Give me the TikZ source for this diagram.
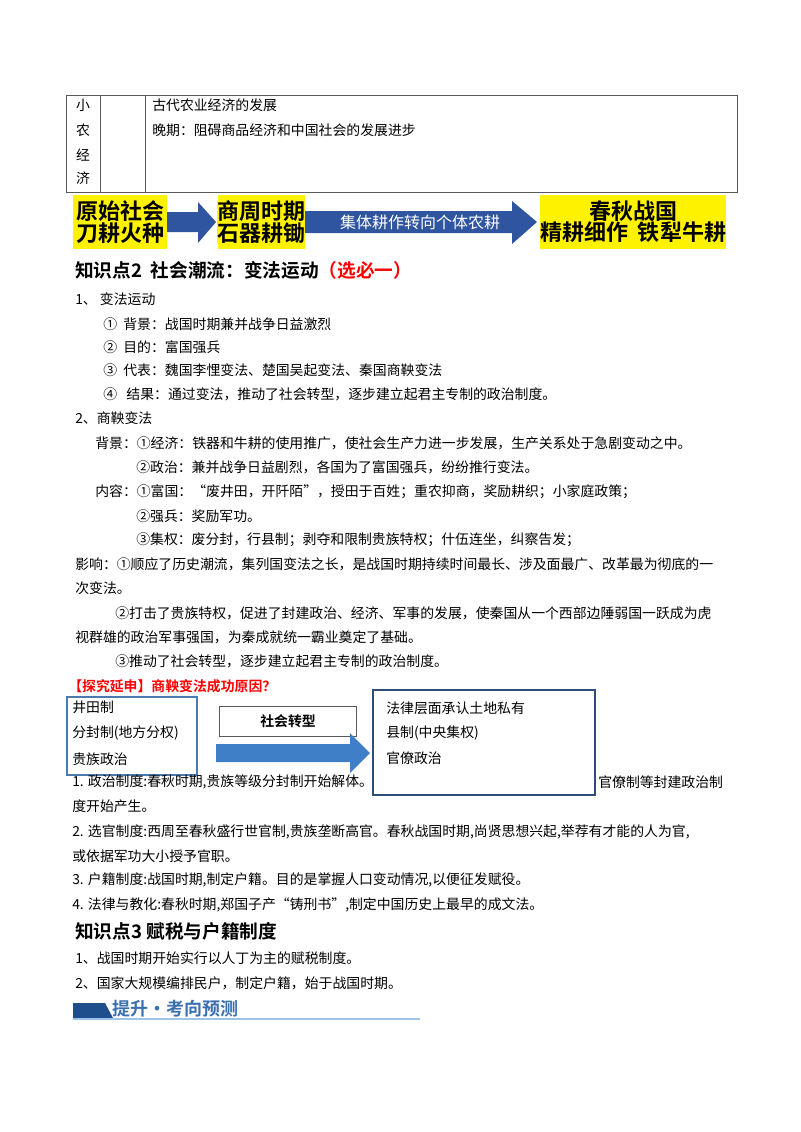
\documentclass[tikz,border=0pt]{standalone}
\usepackage{fontspec}
\setmainfont{Noto Sans CJK SC}
\newfontfamily\cjkb{Noto Sans CJK SC Bold}
\definecolor{arrowblue}{HTML}{2F55A0}
\definecolor{lightarr}{HTML}{3F7FC8}
\definecolor{boxblue}{HTML}{4A7BAF}
\definecolor{rbox}{HTML}{2F4D7A}
\definecolor{bannerdark}{HTML}{1F4E8C}
\definecolor{bannerline}{HTML}{9DC3E6}
\definecolor{bannertext}{HTML}{3A6FB0}
\begin{document}
\begin{tikzpicture}[x=0.75pt,y=-0.75pt,
  t/.style={anchor=west,inner sep=0,font=\fontsize{10.4}{12}\selectfont},
  yb/.style={fill=yellow,inner sep=0,font=\cjkb\fontsize{16.5}{19}\selectfont,align=center},
  blarrow/.style={fill=arrowblue,draw=none}]
\useasboundingbox (0,0) rectangle (800,1132);
% table
\draw[gray!70!black] (66,95) rectangle (737,192) (100,95)--(100,192) (145,95)--(145,192);
\foreach \c/\y in {小/105,农/130,经/155,济/178}{\node[t,anchor=center] at (83,\y) {\c};}
\node[t] (r1) at (152,105) {古代农业经济的发展};
\node[t] (r2) at (152,130) {晚期：阻碍商品经济和中国社会的发展进步};
% yellow flow
\fill[yellow] (73,195) rectangle (167,249);
\node[yb] (y1) at (120,222) {原始社会\\[-3pt]刀耕火种};
\fill[yellow] (218,195) rectangle (305,249);
\node[yb] (y2) at (261,222) {商周时期\\[-3pt]石器耕锄};
\fill[yellow] (540,195) rectangle (726,249);
\node[yb] (y3) at (633,222) {春秋战国\\[-3pt]精耕细作\ \ 铁犁牛耕};
\fill[blarrow] (167,212)--(198,212)--(198,202)--(216,222)--(198,243)--(198,232)--(167,232)--cycle;
\fill[blarrow] (305,211)--(512,211)--(512,201)--(537,222)--(512,244)--(512,233)--(305,233)--cycle;
\node[t,anchor=center,white,font=\fontsize{12}{14}\selectfont] (a2) at (420,222) {集体耕作转向个体农耕};
% heading
\node[t,font=\cjkb\fontsize{14}{16}\selectfont] (h2) at (75,270) {知识点2\ \ 社会潮流：变法运动\textcolor{red}{（选必一）}};
\node[t] at (75,299) {1、\ 变法运动};
\node[t] at (103,324) {①\ \ 背景：战国时期兼并战争日益激烈};
\node[t] at (103,347) {②\ \ 目的：富国强兵};
\node[t] at (103,370) {③\ \ 代表：魏国李悝变法、楚国吴起变法、秦国商鞅变法};
\node[t] at (103,394) {④\ \ \ 结果：通过变法，推动了社会转型，逐步建立起君主专制的政治制度。};
\node[t] at (75,418) {2、商鞅变法};
\node[t] at (95,443) {背景：①经济：铁器和牛耕的使用推广，使社会生产力进一步发展，生产关系处于急剧变动之中。};
\node[t] at (136,467) {②政治：兼并战争日益剧烈，各国为了富国强兵，纷纷推行变法。};
\node[t] at (95,492) {内容：①富国：“废井田，开阡陌”，授田于百姓；重农抑商，奖励耕织；小家庭政策；};
\node[t] at (136,516) {②强兵：奖励军功。};
\node[t] at (136,540) {③集权：废分封，行县制；剥夺和限制贵族特权；什伍连坐，纠察告发；};
\node[t] at (75,564) {影响：①顺应了历史潮流，集列国变法之长，是战国时期持续时间最长、涉及面最广、改革最为彻底的一};
\node[t] at (75,588) {次变法。};
\node[t] at (115,613) {②打击了贵族特权，促进了封建政治、经济、军事的发展，使秦国从一个西部边陲弱国一跃成为虎};
\node[t] at (75,637) {视群雄的政治军事强国，为秦成就统一霸业奠定了基础。};
\node[t] at (115,661) {③推动了社会转型，逐步建立起君主专制的政治制度。};
\node[t,red,font=\cjkb\fontsize{10.4}{12}\selectfont] (q) at (68,686) {【探究延申】商鞅变法成功原因？};
% left box
\node[draw=boxblue,line width=1.6pt,fill=white,minimum width=130pt*0.75,minimum height=78pt*0.75,inner sep=0] (lb) at (132,736) {};
\node[t] at (72,707) {井田制};
\node[t] at (72,733) {分封制(地方分权)};
\node[t] at (72,759) {贵族政治};
% paragraph 1 partially hidden
\node[t] (p1) at (72,782) {1. 政治制度:春秋时期,贵族等级分封制开始解体。};
\node[t] (p1b) at (598,782) {官僚制等封建政治制};
\node[draw=gray!70!black,fill=white,minimum width=137pt*0.75,minimum height=30pt*0.75,inner sep=0,font=\cjkb\fontsize{10.4}{12}\selectfont] (st) at (288,721) {社会转型};
\fill[lightarr] (216,744)--(350,744)--(350,733)--(370,753)--(350,773)--(350,762)--(216,762)--cycle;
\node[draw=rbox,line width=1.2pt,fill=white,minimum width=222pt*0.75,minimum height=105pt*0.75,inner sep=0] (rb) at (484,742.5) {};
\node[t] at (386,708) {法律层面承认土地私有};
\node[t] at (386,733) {县制(中央集权)};
\node[t] at (386,758) {官僚政治};
\node[t] at (72,806) {度开始产生。};
\node[t] at (72,832) {2. 选官制度:西周至春秋盛行世官制,贵族垄断高官。春秋战国时期,尚贤思想兴起,举荐有才能的人为官,};
\node[t] at (72,856) {或依据军功大小授予官职。};
\node[t] at (72,880) {3. 户籍制度:战国时期,制定户籍。目的是掌握人口变动情况,以便征发赋役。};
\node[t] at (72,905) {4. 法律与教化:春秋时期,郑国子产“铸刑书”,制定中国历史上最早的成文法。};
\node[t,font=\cjkb\fontsize{14}{16}\selectfont] (h3) at (75,931) {知识点3\ 赋税与户籍制度};
\node[t] at (75,958) {1、战国时期开始实行以人丁为主的赋税制度。};
\node[t] at (75,983) {2、国家大规模编排民户，制定户籍，始于战国时期。};
% banner
\fill[bannerdark] (73,1003)--(105,1003)--(113,1018)--(73,1018)--cycle;
\draw[bannerline,line width=1pt] (73,1019)--(420,1019);
\node[t,bannertext,font=\cjkb\fontsize{13.5}{15}\selectfont] (bn) at (112,1009) {提升·考向预测};
\end{tikzpicture}
\end{document}
